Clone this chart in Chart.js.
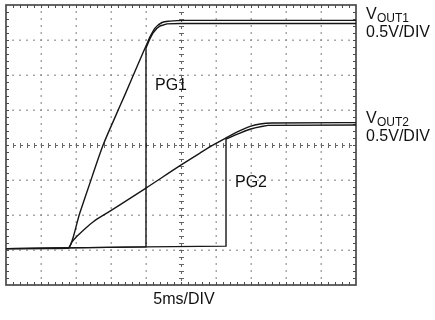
<!DOCTYPE html>
<html>
<head>
<meta charset="utf-8">
<script src="https://cdn.jsdelivr.net/npm/chart.js@4"></script>
<style>
  html, body { margin: 0; padding: 0; background: #fff; }
  #scope { display: block; }
</style>
</head>
<body>
<canvas id="scope" width="435" height="320"></canvas>
<script>
// scope screen: 10 x 8 divisions, 5ms/div, levels read in screen divisions from the bottom
const X_DIVS = 10;
const Y_DIVS = 8;
const MS_PER_DIV = 5;

const vout1Time = [0, 8.86, 10.57, 12.29, 13.86, 15.57, 17.0, 18.43, 20.0, 20.57, 21.29, 22.29, 23.43, 25.57, 50];
const vout1Div  = [1.04, 1.06, 2.07, 3.09, 3.99, 4.79, 5.44, 6.11, 6.83, 7.09, 7.34, 7.5, 7.54, 7.56, 7.56];

const pg1Time = [0, 8.86, 20.0, 20.0, 20.29, 20.64, 21.0, 21.5, 22.0, 23.0, 24.86, 50];
const pg1Div  = [1.04, 1.06, 1.09, 6.77, 6.91, 7.07, 7.2, 7.32, 7.4, 7.46, 7.47, 7.47];

const vout2Time = [0, 8.86, 9.43, 10.14, 11.29, 12.43, 14.86, 20.0, 24.86, 27.71, 29.86, 31.71, 33.43, 34.86, 36.29, 38.0, 50];
const vout2Div  = [1.04, 1.05, 1.23, 1.39, 1.61, 1.8, 2.11, 2.77, 3.41, 3.77, 4.03, 4.23, 4.41, 4.53, 4.6, 4.63, 4.64];

const pg2Time = [0, 8.86, 20.0, 31.43, 31.43, 32.0, 32.71, 33.43, 34.14, 34.86, 35.57, 36.5, 37.43, 50];
const pg2Div  = [1.04, 1.06, 1.09, 1.11, 4.17, 4.22, 4.28, 4.34, 4.4, 4.45, 4.49, 4.53, 4.56, 4.57];

function toPoints(ts, vs) {
  return ts.map((t, i) => ({ x: t, y: vs[i] }));
}

const TRACE = '#161616';
const FONT = '"Liberation Sans", Arial, sans-serif';

// graticule: dotted divisions, ticked centre cross, ticked frame
const scopeGrid = {
  id: 'scopeGrid',
  beforeDatasetsDraw(chart) {
    const { ctx, chartArea: a, scales: { x, y } } = chart;
    ctx.save();

    ctx.fillStyle = '#8c8c8c';
    for (let i = 1; i < X_DIVS; i++) {
      if (i === X_DIVS / 2) continue;
      const px = Math.round(x.getPixelForValue(i * MS_PER_DIV));
      for (let j = 1; j < Y_DIVS * 5; j++) {
        const py = Math.round(y.getPixelForValue(j / 5));
        ctx.fillRect(px - 0.5, py - 0.75, 1.5, 1.5);
      }
    }
    for (let j = 1; j < Y_DIVS; j++) {
      if (j === Y_DIVS / 2) continue;
      const py = Math.round(y.getPixelForValue(j));
      for (let i = 1; i < X_DIVS * 5; i++) {
        const px = Math.round(x.getPixelForValue(i * MS_PER_DIV / 5));
        ctx.fillRect(px - 0.75, py - 0.5, 1.5, 1.5);
      }
    }

    // centre cross
    const cx = Math.round(x.getPixelForValue(X_DIVS / 2 * MS_PER_DIV)) + 0.5;
    const cy = Math.round(y.getPixelForValue(Y_DIVS / 2)) + 0.5;
    ctx.strokeStyle = '#666';
    ctx.lineWidth = 1;
    ctx.setLineDash([3, 4]);
    ctx.beginPath();
    ctx.moveTo(a.left, cy); ctx.lineTo(a.right, cy);
    ctx.moveTo(cx, a.top); ctx.lineTo(cx, a.bottom);
    ctx.stroke();
    ctx.setLineDash([]);
    ctx.beginPath();
    for (let i = 1; i < X_DIVS * 5; i++) {
      const px = Math.round(x.getPixelForValue(i * MS_PER_DIV / 5)) + 0.5;
      ctx.moveTo(px, cy - 2.5); ctx.lineTo(px, cy + 2.5);
    }
    for (let j = 1; j < Y_DIVS * 5; j++) {
      const py = Math.round(y.getPixelForValue(j / 5)) + 0.5;
      ctx.moveTo(cx - 2.5, py); ctx.lineTo(cx + 2.5, py);
    }
    ctx.stroke();

    // frame with inward minor ticks
    ctx.strokeStyle = '#4a4a4a';
    ctx.beginPath();
    for (let i = 1; i < X_DIVS * 5; i++) {
      const px = Math.round(x.getPixelForValue(i * MS_PER_DIV / 5)) + 0.5;
      ctx.moveTo(px, a.top); ctx.lineTo(px, a.top + 3);
      ctx.moveTo(px, a.bottom); ctx.lineTo(px, a.bottom - 3);
    }
    for (let j = 1; j < Y_DIVS * 5; j++) {
      const py = Math.round(y.getPixelForValue(j / 5)) + 0.5;
      ctx.moveTo(a.left, py); ctx.lineTo(a.left + 3, py);
      ctx.moveTo(a.right, py); ctx.lineTo(a.right - 3, py);
    }
    ctx.stroke();
    ctx.lineWidth = 1.7;
    ctx.strokeRect(a.left, a.top, a.right - a.left, a.bottom - a.top);
    ctx.restore();
  },
  afterDraw(chart) {
    const { ctx } = chart;
    ctx.save();
    ctx.fillStyle = '#111';
    ctx.textBaseline = 'alphabetic';
    ctx.textAlign = 'left';

    const outLabel = (name, yBase) => {
      ctx.font = '16px ' + FONT;
      ctx.fillText('V', 366, yBase);
      ctx.font = '12px ' + FONT;
      ctx.fillText(name, 377, yBase + 3);
      ctx.font = '16px ' + FONT;
      ctx.fillText('0.5V/DIV', 366, yBase + 18);
    };
    outLabel('OUT1', 19);
    outLabel('OUT2', 123);

    ctx.font = '16px ' + FONT;
    ctx.fillText('PG1', 155, 90);
    ctx.fillText('PG2', 235, 187);
    ctx.textAlign = 'center';
    ctx.fillText('5ms/DIV', 184, 304);
    ctx.restore();
  }
};

const voutStyle = { borderColor: TRACE, borderWidth: 1.4, pointRadius: 0, cubicInterpolationMode: 'monotone', fill: false };
const pgStyle = { borderColor: TRACE, borderWidth: 1.4, pointRadius: 0, tension: 0, fill: false };

new Chart(document.getElementById('scope'), {
  type: 'line',
  data: {
    datasets: [
      { label: 'VOUT1', data: toPoints(vout1Time, vout1Div), ...voutStyle },
      { label: 'PG1', data: toPoints(pg1Time, pg1Div), ...pgStyle },
      { label: 'VOUT2', data: toPoints(vout2Time, vout2Div), ...voutStyle },
      { label: 'PG2', data: toPoints(pg2Time, pg2Div), ...pgStyle }
    ]
  },
  options: {
    responsive: false,
    animation: false,
    devicePixelRatio: 1,
    layout: { padding: { left: 6, top: 5, right: 79, bottom: 35 } },
    plugins: { legend: { display: false }, tooltip: { enabled: false } },
    scales: {
      x: { type: 'linear', min: 0, max: X_DIVS * MS_PER_DIV, display: false },
      y: { type: 'linear', min: 0, max: Y_DIVS, display: false }
    }
  },
  plugins: [scopeGrid]
});
</script>
</body>
</html>
